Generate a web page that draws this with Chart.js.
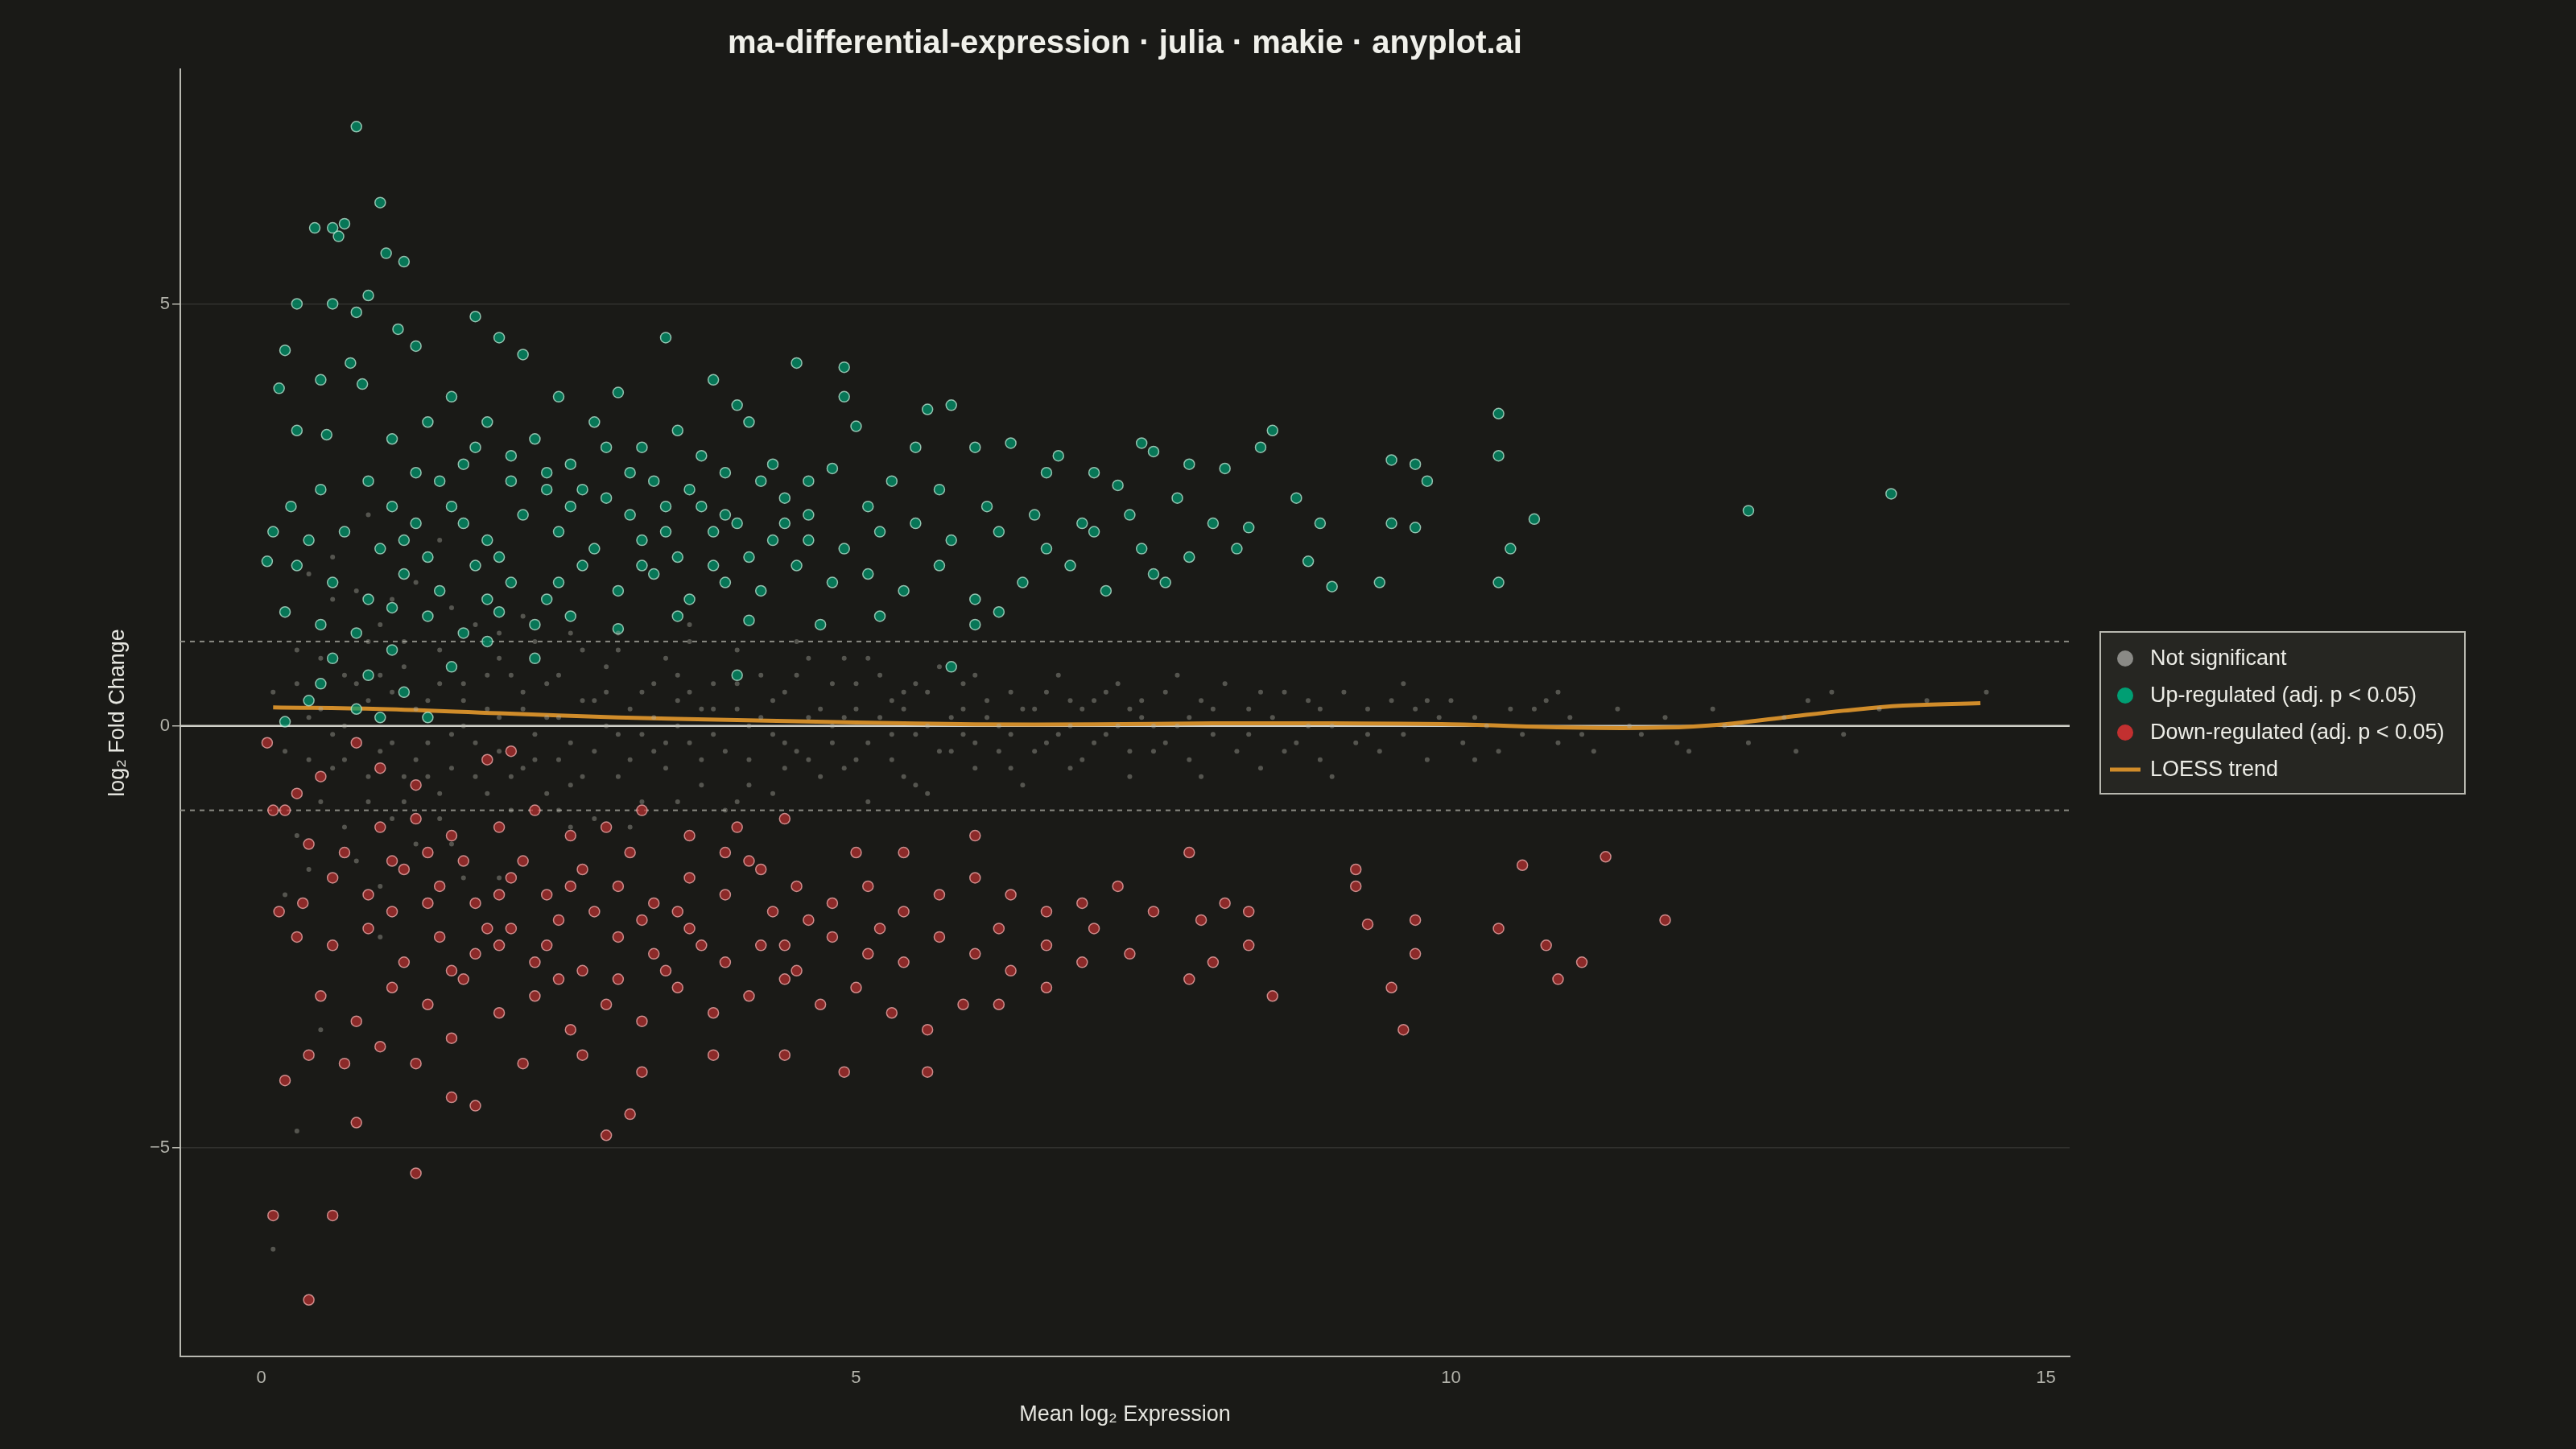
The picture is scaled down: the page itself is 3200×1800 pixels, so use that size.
<!DOCTYPE html>
<html>
<head>
<meta charset="utf-8">
<script src="https://cdn.jsdelivr.net/npm/chart.js@4"></script>
<style>
  html, body { margin: 0; padding: 0; background: #1a1a17; }
  #wrap { width: 3200px; height: 1800px; }
</style>
</head>
<body>
<div id="wrap"><canvas id="chart" width="3200" height="1800"></canvas></div>
<script>
// points as [mean log2 expression, log2 fold change]
const upPoints = [
  [0.8,7.1],[1.0,6.2],[0.45,5.9],[0.6,5.9],[0.65,5.8],[0.7,5.95],[1.05,5.6],[1.2,5.5],[0.3,5.0],[0.6,5.0],
  [0.9,5.1],[0.8,4.9],[1.15,4.7],[1.3,4.5],[0.2,4.45],[0.75,4.3],[1.8,4.85],[2.0,4.6],[2.2,4.4],[3.4,4.6],
  [4.5,4.3],[4.9,4.25],[3.8,4.1],[0.5,4.1],[0.85,4.05],[0.15,4.0],[1.6,3.9],[2.5,3.9],[3.0,3.95],[4.0,3.8],
  [4.9,3.9],[5.6,3.75],[5.8,3.8],[10.4,3.7],[0.3,3.5],[0.55,3.45],[1.1,3.4],[1.9,3.6],[2.8,3.6],[3.5,3.5],
  [4.1,3.6],[5.0,3.55],[5.5,3.3],[6.0,3.3],[6.3,3.35],[6.7,3.2],[7.4,3.35],[7.5,3.25],[8.5,3.5],[8.4,3.3],
  [10.4,3.2],[9.5,3.15],[9.7,3.1],[9.8,2.9],[7.8,3.1],[8.1,3.05],[7.0,3.0],[7.2,2.85],[6.6,3.0],[0.25,2.6],
  [0.5,2.8],[0.9,2.9],[1.3,3.0],[1.7,3.1],[2.1,3.2],[2.4,3.0],[2.7,2.8],[3.1,3.0],[3.3,2.9],[3.6,2.8],
  [3.9,3.0],[4.3,3.1],[4.6,2.9],[4.8,3.05],[5.3,2.9],[5.7,2.8],[6.1,2.6],[6.5,2.5],[6.9,2.4],[7.3,2.5],
  [7.7,2.7],[8.0,2.4],[8.3,2.35],[8.7,2.7],[8.9,2.4],[9.5,2.4],[9.7,2.35],[10.5,2.1],[10.7,2.45],[12.5,2.55],
  [13.7,2.75],[0.1,2.3],[0.4,2.2],[0.7,2.3],[1.0,2.1],[1.3,2.4],[1.6,2.6],[1.9,2.2],[2.2,2.5],[2.5,2.3],
  [2.8,2.1],[3.1,2.5],[3.4,2.3],[3.7,2.6],[4.0,2.4],[4.3,2.2],[4.6,2.5],[4.9,2.1],[5.2,2.3],[5.5,2.4],
  [5.8,2.2],[6.2,2.3],[6.6,2.1],[7.0,2.3],[7.4,2.1],[7.8,2.0],[8.2,2.1],[0.05,1.95],[0.3,1.9],[0.6,1.7],
  [0.9,1.5],[1.2,1.8],[1.5,1.6],[1.8,1.9],[2.1,1.7],[2.4,1.5],[2.7,1.9],[3.0,1.6],[3.3,1.8],[3.6,1.5],
  [3.9,1.7],[4.2,1.6],[4.5,1.9],[4.8,1.7],[5.1,1.8],[5.4,1.6],[5.7,1.9],[6.0,1.5],[6.4,1.7],[6.8,1.9],
  [7.1,1.6],[7.6,1.7],[8.8,1.95],[9.0,1.65],[9.4,1.7],[10.4,1.7],[6.2,1.35],[7.5,1.8],[0.2,1.35],[0.5,1.2],
  [0.8,1.1],[1.1,1.4],[1.4,1.3],[1.7,1.1],[2.0,1.35],[2.3,1.2],[2.6,1.3],[3.0,1.15],[3.5,1.3],[4.1,1.25],
  [4.7,1.2],[5.2,1.3],[6.0,1.2],[0.6,0.8],[0.9,0.6],[1.2,0.4],[0.4,0.3],[0.8,0.2],[1.0,0.1],[0.2,0.05],
  [1.1,0.9],[1.6,0.7],[1.9,1.0],[0.5,0.5],[4.0,0.6],[5.8,0.7],[2.3,0.8],[1.4,0.1],[2.4,2.8],[3.2,2.2],
  [1.5,2.9],[2.6,2.6],[3.8,2.3],[4.4,2.7],[5.1,2.6],[2.9,3.3],[3.5,2.0],[1.1,2.6],[2.0,2.0],[4.1,2.0],
  [1.4,3.6],[1.8,3.3],[2.3,3.4],[2.6,3.1],[3.2,3.3],[3.7,3.2],[4.2,2.9],[1.2,2.2],[1.7,2.4],[2.1,2.9],
  [2.9,2.7],[3.4,2.6],[3.9,2.5],[4.4,2.4],[1.4,2.0],[1.9,1.5],[2.5,1.7],[3.2,1.9],[3.8,1.9],[4.6,2.2]
];
const downPoints = [
  [0.05,-0.2],[0.1,-1.0],[0.2,-1.0],[0.3,-0.8],[0.5,-0.6],[0.8,-0.2],[1.0,-0.5],[1.3,-0.7],[1.9,-0.4],[2.1,-0.3],
  [0.4,-1.4],[0.7,-1.5],[1.0,-1.2],[1.3,-1.1],[1.6,-1.3],[2.0,-1.2],[2.3,-1.0],[2.6,-1.3],[2.9,-1.2],[3.2,-1.0],
  [3.6,-1.3],[4.0,-1.2],[4.4,-1.1],[5.0,-1.5],[5.4,-1.5],[6.0,-1.3],[7.8,-1.5],[11.3,-1.55],[10.6,-1.65],[9.2,-1.7],
  [0.15,-2.2],[0.35,-2.1],[0.6,-1.8],[0.9,-2.0],[1.2,-1.7],[1.5,-1.9],[1.8,-2.1],[2.1,-1.8],[2.4,-2.0],[2.7,-1.7],
  [3.0,-1.9],[3.3,-2.1],[3.6,-1.8],[3.9,-2.0],[4.2,-1.7],[4.5,-1.9],[4.8,-2.1],[5.1,-1.9],[5.4,-2.2],[5.7,-2.0],
  [6.0,-1.8],[6.3,-2.0],[6.6,-2.2],[6.9,-2.1],[7.2,-1.9],[7.5,-2.2],[7.9,-2.3],[8.1,-2.1],[8.3,-2.2],[9.2,-1.9],
  [9.3,-2.35],[9.7,-2.3],[11.8,-2.3],[10.4,-2.4],[0.3,-2.5],[0.6,-2.6],[0.9,-2.4],[1.2,-2.8],[1.5,-2.5],[1.8,-2.7],
  [2.1,-2.4],[2.4,-2.6],[2.7,-2.9],[3.0,-2.5],[3.3,-2.7],[3.6,-2.4],[3.9,-2.8],[4.2,-2.6],[4.5,-2.9],[4.8,-2.5],
  [5.1,-2.7],[5.4,-2.8],[5.7,-2.5],[6.0,-2.7],[6.3,-2.9],[6.6,-2.6],[6.9,-2.8],[7.3,-2.7],[7.8,-3.0],[8.0,-2.8],
  [8.5,-3.2],[8.3,-2.6],[9.7,-2.7],[10.8,-2.6],[11.1,-2.8],[10.9,-3.0],[9.5,-3.1],[0.5,-3.2],[0.8,-3.5],[1.1,-3.1],
  [1.4,-3.3],[1.7,-3.0],[2.0,-3.4],[2.3,-3.2],[2.6,-3.6],[2.9,-3.3],[3.2,-3.5],[3.5,-3.1],[3.8,-3.4],[4.1,-3.2],
  [4.4,-3.0],[4.7,-3.3],[5.0,-3.1],[5.3,-3.4],[5.6,-3.6],[5.9,-3.3],[6.2,-3.3],[6.6,-3.1],[9.6,-3.6],[0.4,-3.9],
  [0.7,-4.0],[1.0,-3.8],[1.3,-4.0],[1.6,-3.7],[2.2,-4.0],[2.7,-3.9],[3.2,-4.1],[3.8,-3.9],[4.4,-3.9],[4.9,-4.1],
  [5.6,-4.1],[0.2,-4.2],[1.6,-4.4],[1.8,-4.5],[0.8,-4.7],[3.1,-4.6],[2.9,-4.85],[1.3,-5.3],[0.1,-5.8],[0.6,-5.8],
  [0.4,-6.8],[1.1,-2.2],[2.5,-2.3],[3.5,-2.2],[4.6,-2.3],[6.2,-2.4],[7.0,-2.4],[1.4,-1.5],[2.2,-1.6],[3.1,-1.5],
  [2.8,-2.2],[1.9,-2.4],[3.7,-2.6],[4.3,-2.2],[2.5,-3.0],[1.6,-2.9],[3.4,-2.9],[4.1,-1.6],[5.2,-2.4],[2.0,-2.0],
  [1.4,-2.1],[1.7,-1.6],[2.3,-2.8],[2.6,-1.9],[3.2,-2.3],[3.9,-1.5],[4.4,-2.6],[1.1,-1.6],[2.0,-2.6],[3.0,-3.0]
];
const grayPoints = [
  [0.1,0.4],[0.2,-0.3],[0.3,0.9],[0.3,-1.3],[0.4,0.1],[0.5,-0.9],[0.6,1.5],[0.6,-0.1],[0.7,0.6],[0.8,-1.6],
  [0.9,0.3],[0.9,-0.6],[1.0,1.2],[1.1,-0.2],[1.1,-1.1],[1.2,0.7],[1.3,-0.4],[1.3,1.7],[1.4,0.3],[1.5,-0.8],
  [1.5,0.9],[1.6,-0.1],[1.6,-1.4],[1.7,0.5],[1.8,-0.6],[1.8,1.2],[1.9,0.2],[2.0,-0.3],[2.0,0.8],[2.1,-1.0],
  [2.2,0.4],[2.2,-0.5],[2.3,1.0],[2.4,0.1],[2.4,-0.8],[2.5,0.6],[2.6,-0.2],[2.6,1.1],[2.7,-0.6],[2.8,0.3],
  [2.8,-1.1],[2.9,0.7],[3.0,-0.1],[3.0,0.9],[3.1,-0.4],[3.2,0.4],[3.2,-0.9],[3.3,0.1],[3.4,0.8],[3.4,-0.5],
  [3.5,0.3],[3.6,-0.2],[3.6,1.0],[3.7,-0.7],[3.8,0.5],[3.8,-0.1],[3.9,-1.0],[4.0,0.2],[4.0,0.9],[4.1,-0.4],
  [4.2,0.6],[4.3,-0.1],[4.3,-0.8],[4.4,0.4],[4.5,-0.3],[4.5,1.0],[4.6,0.1],[4.7,-0.6],[4.8,0.5],[4.8,-0.2],
  [4.9,0.8],[5.0,-0.4],[5.0,0.2],[5.1,-0.9],[5.2,0.6],[5.3,-0.1],[5.3,0.3],[5.4,-0.6],[5.5,0.5],[5.6,0.0],
  [5.6,-0.8],[5.7,0.7],[5.8,-0.3],[5.9,0.2],[6.0,-0.5],[6.0,0.6],[6.1,0.1],[6.2,-0.3],[6.3,0.4],[6.4,-0.7],
  [6.5,0.2],[6.6,-0.2],[6.7,0.6],[6.8,0.0],[6.9,-0.4],[7.0,0.3],[7.1,-0.1],[7.2,0.5],[7.3,-0.6],[7.4,0.1],
  [7.5,-0.3],[7.6,0.4],[7.7,0.0],[7.8,-0.4],[7.9,0.3],[8.0,-0.1],[8.1,0.5],[8.2,-0.3],[8.3,0.2],[8.4,-0.5],
  [8.5,0.1],[8.6,0.4],[8.7,-0.2],[8.8,0.3],[8.9,-0.4],[9.0,0.0],[9.1,0.4],[9.2,-0.2],[9.3,0.2],[9.4,-0.3],
  [9.5,0.3],[9.6,-0.1],[9.7,0.2],[9.8,-0.4],[9.9,0.1],[10.0,0.3],[10.1,-0.2],[10.2,0.1],[10.4,-0.3],[10.5,0.2],
  [10.6,-0.1],[10.8,0.3],[10.9,-0.2],[11.0,0.1],[11.2,-0.3],[11.4,0.2],[11.6,-0.1],[11.8,0.1],[12.0,-0.3],[12.2,0.2],
  [12.5,-0.2],[12.8,0.1],[13.0,0.3],[13.3,-0.1],[13.6,0.2],[14.0,0.3],[14.5,0.4],[0.2,-2.0],[0.4,1.8],[0.5,-3.6],
  [1.0,-2.5],[1.5,2.2],[0.3,-4.8],[0.1,-6.2],[0.9,2.5],[2.0,-1.8],[1.2,-0.9],[0.7,-0.4],[1.4,-0.6],[1.7,0.0],
  [2.1,0.6],[2.5,-0.4],[2.9,0.0],[3.3,-0.3],[3.7,0.2],[4.1,0.0],[4.4,-0.5],[4.9,0.1],[5.4,0.4],[5.9,-0.1],
  [6.3,-0.1],[6.8,0.3],[7.3,0.2],[7.8,0.1],[8.3,-0.1],[8.8,0.0],[2.3,-0.1],[3.5,0.6],[1.9,-0.8],[2.7,0.9],
  [0.5,0.2],[0.6,-0.5],[0.8,0.5],[1.0,-0.3],[1.1,0.4],[1.2,-0.6],[1.3,0.2],[1.4,-0.2],[1.5,0.5],[1.6,-0.5],
  [1.7,0.3],[1.8,-0.2],[1.9,0.6],[2.0,0.1],[2.1,-0.6],[2.2,0.2],[2.3,-0.4],[2.4,0.5],[2.5,0.1],[2.6,-0.7],
  [2.7,0.3],[2.8,-0.3],[2.9,0.4],[3.0,-0.6],[3.1,0.2],[3.2,-0.1],[3.3,0.5],[3.4,-0.2],[3.5,0.0],[3.6,0.4],
  [3.7,-0.4],[3.8,0.2],[3.9,-0.3],[4.0,0.5],[4.1,-0.7],[4.2,0.1],[4.3,0.3],[4.4,-0.2],[4.5,0.6],[4.6,-0.4],
  [4.7,0.2],[4.8,0.0],[4.9,-0.5],[5.0,0.5],[5.1,-0.2],[5.2,0.1],[5.3,-0.4],[5.4,0.2],[5.5,-0.1],[5.6,0.4],
  [5.7,-0.3],[5.8,0.1],[5.9,0.5],[6.0,-0.2],[6.1,0.3],[6.2,0.0],[6.3,-0.5],[6.4,0.2],[6.5,-0.3],[6.6,0.4],
  [6.7,-0.1],[6.8,-0.5],[6.9,0.2],[7.0,-0.2],[7.1,0.4],[7.2,0.0],[7.3,-0.3],[7.4,0.3],[7.5,0.0],[7.6,-0.2],
  [1.2,1.0],[1.5,-1.1],[2.0,1.1],[2.5,-1.0],[3.0,1.1],[3.5,-0.9],[4.0,-0.9],[4.6,0.8],[5.1,0.8],[5.5,-0.7],
  [0.7,-1.2],[0.9,1.0],[1.1,1.5],[1.3,-1.4],[0.4,-1.7],[0.6,2.0],[1.7,-1.8],[1.0,-1.9],[0.8,1.6],[1.6,1.4],
  [2.2,1.3],[2.6,-1.2],[3.1,-1.2],[3.6,1.2],[0.3,0.5],[0.4,-0.4],[0.5,0.8],[0.7,0.0],[0.9,-0.9],[1.0,0.6],
  [8.0,0.2],[8.4,0.4],[8.9,0.2],[9.3,-0.1],[9.8,0.3],[10.3,0.0],[10.7,0.2],[11.1,-0.1],[11.5,0.0],[12.3,0.0],
  [12.9,-0.3],[13.2,0.4],[9.0,-0.6],[9.6,0.5],[10.2,-0.4],[10.9,0.4],[11.9,-0.2],[7.9,-0.6],[8.6,-0.3],[7.7,0.6]
];
const loessX = [0.1, 1, 2, 3, 4, 5, 6, 7, 8, 9, 10, 11, 11.8, 12.3, 12.8, 13.3, 13.8, 14.45];
const loessY = [0.22, 0.2, 0.15, 0.1, 0.07, 0.04, 0.02, 0.02, 0.03, 0.03, 0.02, -0.02, -0.02, 0.02, 0.1, 0.18, 0.24, 0.27];
const xTicks = [0, 5, 10, 15];
const yTicks = [-5, 0, 5];

const toXY = arr => arr.map(p => ({ x: p[0], y: p[1] }));
const tickColor = '#b4b4ac';

const refLines = {
  id: 'refLines',
  beforeDatasetsDraw(chart) {
    const { ctx, chartArea: a, scales: { y } } = chart;
    ctx.save();
    ctx.strokeStyle = '#8a8a82';
    ctx.lineWidth = 2;
    ctx.setLineDash([6, 6]);
    [1, -1].forEach(v => {
      const py = y.getPixelForValue(v);
      ctx.beginPath(); ctx.moveTo(a.left, py); ctx.lineTo(a.right, py); ctx.stroke();
    });
    ctx.setLineDash([]);
    ctx.strokeStyle = '#cfcfc8';
    ctx.lineWidth = 2.5;
    const p0 = y.getPixelForValue(0);
    ctx.beginPath(); ctx.moveTo(a.left, p0); ctx.lineTo(a.right, p0); ctx.stroke();
    ctx.restore();
  },
  afterDraw(chart) {
    const { ctx, chartArea: a } = chart;
    ctx.save();
    // title
    ctx.fillStyle = '#f0f0ea';
    ctx.font = 'bold 40px "Liberation Sans", Arial, sans-serif';
    ctx.textAlign = 'center';
    ctx.textBaseline = 'middle';
    ctx.fillText('ma-differential-expression · julia · makie · anyplot.ai', (a.left + a.right) / 2, 55);
    // legend
    const lx = 2609, ly = 785, lw = 453, lh = 201;
    ctx.fillStyle = '#262622';
    ctx.fillRect(lx, ly, lw, lh);
    ctx.strokeStyle = '#b8b8b0';
    ctx.lineWidth = 2;
    ctx.strokeRect(lx, ly, lw, lh);
    ctx.font = '27px "Liberation Sans", Arial, sans-serif';
    ctx.textAlign = 'left';
    chart.data.datasets.forEach((ds, i) => {
      const cy = ly + 33 + i * 46;
      if (ds.type === 'line') {
        ctx.strokeStyle = ds.borderColor; ctx.lineWidth = 5;
        ctx.beginPath(); ctx.moveTo(lx + 12, cy); ctx.lineTo(lx + 50, cy); ctx.stroke();
      } else {
        ctx.fillStyle = ds.legendColor;
        ctx.beginPath(); ctx.arc(lx + 31, cy, 10, 0, Math.PI * 2); ctx.fill();
      }
      ctx.fillStyle = '#ececE6';
      ctx.fillText(ds.label, lx + 62, cy + 1);
    });
    ctx.restore();
  }
};

new Chart(document.getElementById('chart'), {
  type: 'scatter',
  data: {
    datasets: [
      { label: 'Not significant', data: toXY(grayPoints), pointRadius: 3, pointBorderWidth: 0,
        backgroundColor: 'rgba(175,175,165,0.4)', legendColor: '#8a8a86' },
      { label: 'Up-regulated (adj. p < 0.05)', data: toXY(upPoints), pointRadius: 6.5, pointBorderWidth: 1.5,
        backgroundColor: 'rgba(0,158,115,0.7)', borderColor: 'rgba(190,235,215,0.75)', legendColor: '#009e73' },
      { label: 'Down-regulated (adj. p < 0.05)', data: toXY(downPoints), pointRadius: 6.5, pointBorderWidth: 1.5,
        backgroundColor: 'rgba(195,50,50,0.68)', borderColor: 'rgba(245,175,175,0.75)', legendColor: '#c23030' },
      { type: 'line', label: 'LOESS trend', data: loessX.map((x, i) => ({ x, y: loessY[i] })),
        borderColor: '#d08c2a', borderWidth: 5, pointRadius: 0, tension: 0.4, fill: false }
    ]
  },
  options: {
    responsive: false,
    animation: false,
    devicePixelRatio: 1,
    layout: { padding: { top: 86, right: 629, left: 0, bottom: 0 } },
    plugins: { legend: { display: false }, tooltip: { enabled: false } },
    scales: {
      x: {
        min: -0.68, max: 15.2,
        afterFit: s => { s.height = 115; },
        afterBuildTicks: s => { s.ticks = xTicks.map(v => ({ value: v })); },
        grid: { display: false, drawTicks: true },
        border: { color: '#b8b8b0', width: 2 },
        ticks: { color: tickColor, font: { size: 22, family: 'Liberation Sans' }, padding: 6 },
        title: { display: true, text: 'Mean log₂ Expression', color: '#e6e6e0',
                 font: { size: 27, family: 'Liberation Sans' }, padding: { top: 4, bottom: 26 } }
      },
      y: {
        min: -7.47, max: 7.78,
        afterFit: s => { s.width = 224; },
        afterBuildTicks: s => { s.ticks = yTicks.map(v => ({ value: v })); },
        grid: { color: c => c.tick && c.tick.value !== 0 ? 'rgba(255,255,255,0.1)' : 'rgba(0,0,0,0)',
                lineWidth: 1.5, tickColor: '#b8b8b0', tickLength: 10 },
        border: { color: '#b8b8b0', width: 2 },
        ticks: { color: tickColor, font: { size: 22, family: 'Liberation Sans' },
                 callback: v => v < 0 ? '−' + Math.abs(v) : v },
        title: { display: true, text: 'log₂ Fold Change', color: '#e6e6e0',
                 font: { size: 27, family: 'Liberation Sans' }, padding: { top: 130, bottom: 0 } }
      }
    }
  },
  plugins: [refLines]
});
</script>
</body>
</html>
